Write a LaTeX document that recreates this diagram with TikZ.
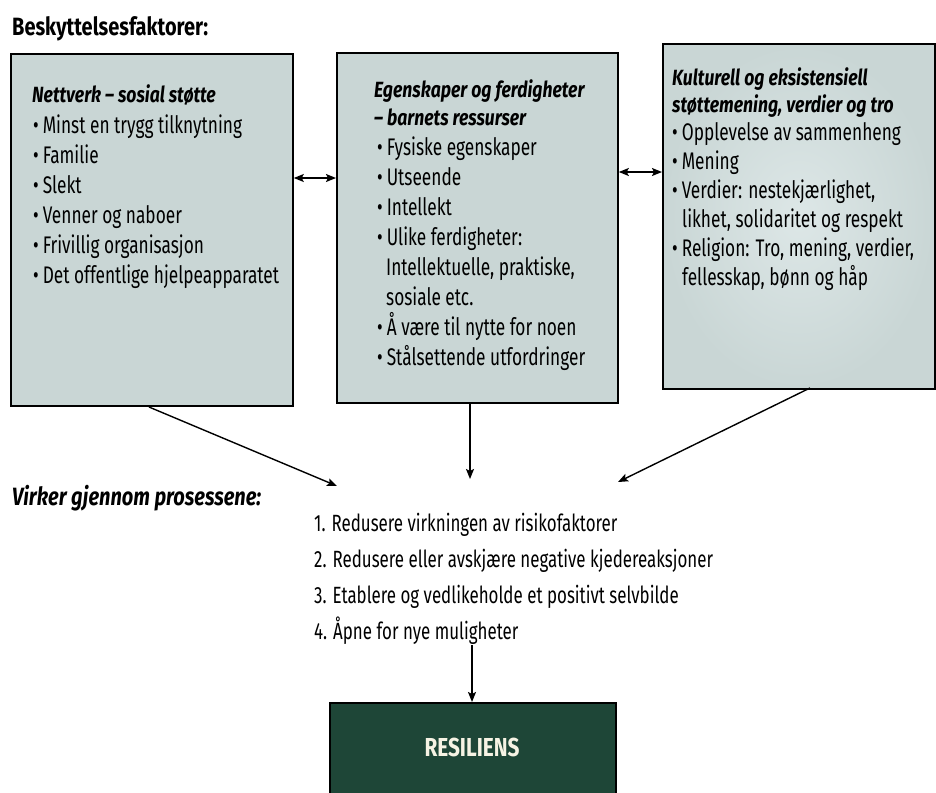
\documentclass[tikz,border=0pt]{standalone}
\usepackage{fontspec}
\setmainfont{Fira Sans}[FakeStretch=0.72,BoldFeatures={FakeStretch=0.8},BoldItalicFeatures={FakeStretch=0.8}]
\usetikzlibrary{arrows.meta}
\definecolor{boxfill}{HTML}{C9D6D5}
\definecolor{boxlight}{HTML}{DDE7E7}
\definecolor{resgreen}{HTML}{1E4637}
\definecolor{restext}{HTML}{F6F3E4}
\begin{document}
\begin{tikzpicture}[x=1pt,y=-1pt,
  fbox/.style={draw=black, line width=1.8pt, fill=boxfill, anchor=north west, inner sep=0pt},
  txt/.style={anchor=base west, inner sep=0pt, font=\fontsize{24}{30}\selectfont},
  ltxt/.style={anchor=base west, inner sep=0pt, font=\fontsize{23.5}{30}\selectfont},
  head/.style={anchor=base west, inner sep=0pt, font=\fontsize{22}{30}\selectfont\bfseries\itshape},
  arr/.style={line width=1.4pt, -{Stealth[length=10pt,width=8pt,inset=2pt]}},
  darr/.style={line width=1.4pt, {Stealth[length=10pt,width=8pt,inset=2pt]}-{Stealth[length=10pt,width=8pt,inset=2pt]}}]
\useasboundingbox (0,0) rectangle (936,792);
\fill[white] (0,0) rectangle (936,792);

% title
\node[anchor=base west, inner sep=0pt, font=\fontsize{25}{30}\selectfont\bfseries] (title) at (12,36) {Beskyttelsesfaktorer:};

% boxes
\node[fbox, minimum width=282pt, minimum height=352pt] (left) at (10,53) {};
\node[fbox, minimum width=281pt, minimum height=350pt] (mid) at (336,52) {};
\node[fbox, minimum width=272pt, minimum height=345pt, inner color=boxlight, outer color=boxfill] (right) at (662,43) {};

% left box text
\node[head] (lh) at (32,102) {Nettverk – sosial støtte};
\foreach \t [count=\i] in {Minst en trygg tilknytning, Familie, Slekt, Venner og naboer, Frivillig organisasjon, Det offentlige hjelpeapparatet}
  \node[txt] (l\i) at (33,103+30*\i) {•\,\t};

% middle box text
\node[head] (mh1) at (374,97) {Egenskaper og ferdigheter};
\node[head] (mh2) at (374,125) {– barnets ressurser};
\node[txt] (m1) at (377,155) {•\,Fysiske egenskaper};
\node[txt] (m2) at (377,185) {•\,Utseende};
\node[txt] (m3) at (377,215) {•\,Intellekt};
\node[txt] (m4) at (377,245) {•\,Ulike ferdigheter:};
\node[txt] (m5) at (386,275) {Intellektuelle, praktiske,};
\node[txt] (m6) at (386,305) {sosiale etc.};
\node[txt] (m7) at (377,335) {•\,Å være til nytte for noen};
\node[txt] (m8) at (377,365) {•\,Stålsettende utfordringer};

% right box text
\node[head] (rh1) at (672,85) {Kulturell og eksistensiell};
\node[head] (rh2) at (672,112) {støttemening, verdier og tro};
\node[txt] (r1) at (672,140) {•\,Opplevelse av sammenheng};
\node[txt] (r2) at (672,169) {•\,Mening};
\node[txt] (r3) at (672,198) {•\,Verdier: nestekjærlighet,};
\node[txt] (r4) at (682,227) {likhet, solidaritet og respekt};
\node[txt] (r5) at (672,256) {•\,Religion: Tro, mening, verdier,};
\node[txt] (r6) at (682,285) {fellesskap, bønn og håp};

% processes
\node[anchor=base west, inner sep=0pt, font=\fontsize{25}{30}\selectfont\bfseries\itshape] (virk) at (12,505) {Virker gjennom prosessene:};
\node[ltxt] (p1) at (314,531) {1. Redusere virkningen av risikofaktorer};
\node[ltxt] (p2) at (314,567) {2. Redusere eller avskjære negative kjedereaksjoner};
\node[ltxt] (p3) at (314,603) {3. Etablere og vedlikeholde et positivt selvbilde};
\node[ltxt] (p4) at (314,639) {4. Åpne for nye muligheter};

% resiliens
\node[draw=black, line width=1.5pt, fill=resgreen, anchor=north west, minimum width=286pt, minimum height=110pt, inner sep=0pt] (res) at (329,702) {};
\node[anchor=base, inner sep=0pt, text=restext, font=\fontsize{26}{30}\selectfont\bfseries] (restxt) at (472,756) {RESILIENS};

% connectors
\coordinate (y1) at (0,178);
\coordinate (y2) at (0,172);
\draw[darr] (left.east |- y1) -- (mid.west |- y1);
\draw[darr] (mid.east |- y2) -- (right.west |- y2);

\coordinate (ls) at (149,407);
\coordinate (lt) at (337,486);
\coordinate (ms) at (470,403);
\coordinate (mt) at (470,479);
\coordinate (rs) at (810,388);
\coordinate (rt) at (618,482);
\draw[arr] (ls) -- (lt);
\draw[arr] (ms) -- (mt);
\draw[arr] (rs) -- (rt);

\coordinate (ps) at (472,645);
\draw[arr] (ps) -- (res.north -| ps);
\end{tikzpicture}
\end{document}
